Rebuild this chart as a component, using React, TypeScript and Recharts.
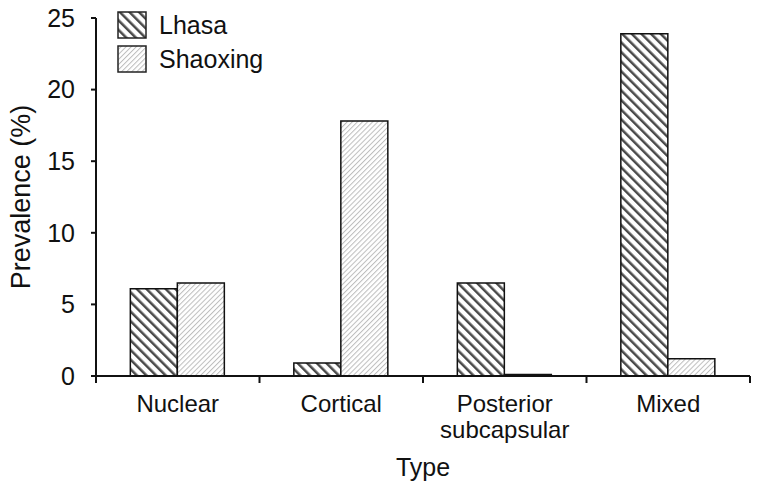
import { Bar, BarChart, Legend, XAxis, YAxis } from "recharts";

const types = ["Nuclear", "Cortical", "Posterior\nsubcapsular", "Mixed"];
const lhasa = [6.1, 0.9, 6.5, 23.9];
const shaoxing = [6.5, 17.8, 0.1, 1.2];
const yTicks = [0, 5, 10, 15, 20, 25];
const categoryBounds = [0, 1, 2, 3, 4];

const data = types.map((type, i) => ({
  type,
  index: i,
  lhasa: lhasa[i],
  shaoxing: shaoxing[i],
}));

const FONT = "'Liberation Sans', Arial, sans-serif";
const FS = 25;

function Patterns() {
  return (
    <svg width={0} height={0} style={{ position: "absolute" }}>
      <defs>
        <pattern
          id="hatchLhasa"
          patternUnits="userSpaceOnUse"
          width={6.8}
          height={6.8}
          patternTransform="rotate(-45)"
        >
          <rect width={6.8} height={6.8} fill="#fff" />
          <line x1={0} y1={0} x2={0} y2={6.8} stroke="#4a4a4a" strokeWidth={5} />
        </pattern>
        <pattern
          id="hatchShaoxing"
          patternUnits="userSpaceOnUse"
          width={3.6}
          height={3.6}
          patternTransform="rotate(45)"
        >
          <rect width={3.6} height={3.6} fill="#fff" />
          <line x1={0} y1={0} x2={0} y2={3.6} stroke="#bdbdbd" strokeWidth={2} />
        </pattern>
      </defs>
    </svg>
  );
}

function TypeTick({ x, y, payload }: any) {
  const lines = String(payload.value).split("\n");
  return (
    <text
      x={x}
      y={y}
      textAnchor="middle"
      fontFamily={FONT}
      fontSize={24}
      fill="#111"
    >
      {lines.map((line, i) => (
        <tspan key={i} x={x} dy={i === 0 ? 27 : 26}>
          {line}
        </tspan>
      ))}
    </text>
  );
}

function LegendBox() {
  const items = [
    { name: "Lhasa", fill: "url(#hatchLhasa)" },
    { name: "Shaoxing", fill: "url(#hatchShaoxing)" },
  ];
  return (
    <div style={{ fontFamily: FONT, fontSize: FS, color: "#111" }}>
      {items.map((item) => (
        <div
          key={item.name}
          style={{ display: "flex", alignItems: "center", height: 34 }}
        >
          <svg width={30} height={28} style={{ marginRight: 12 }}>
            <rect
              x={1}
              y={1}
              width={28}
              height={26}
              fill={item.fill}
              stroke="#222"
              strokeWidth={1.5}
            />
          </svg>
          <span>{item.name}</span>
        </div>
      ))}
    </div>
  );
}

export default function App() {
  return (
    <div style={{ position: "relative" }}>
      <style>{"body{margin:0;background:#fff}"}</style>
      <Patterns />
      <BarChart
        width={758}
        height={489}
        data={data}
        margin={{ top: 18, right: 8, bottom: 0, left: 0 }}
        barCategoryGap="21%"
        barGap={0}
      >
        <XAxis
          xAxisId="bounds"
          type="number"
          dataKey="index"
          domain={[0, 4]}
          ticks={categoryBounds}
          height={1}
          tickFormatter={() => ""}
          tickSize={7}
          stroke="#111"
          strokeWidth={2}
          allowDataOverflow
        />
        <XAxis
          xAxisId="cat"
          dataKey="type"
          height={112}
          axisLine={false}
          tickLine={false}
          tick={<TypeTick />}
          interval={0}
          label={{
            value: "Type",
            position: "insideBottom",
            offset: 13,
            fontFamily: FONT,
            fontSize: FS,
            fill: "#111",
          }}
        />
        <YAxis
          width={96}
          domain={[0, 25]}
          ticks={yTicks}
          tickSize={5}
          tickMargin={16}
          stroke="#111"
          strokeWidth={2}
          tick={{ fontFamily: FONT, fontSize: FS, fill: "#111" }}
          label={{
            content: ({ viewBox }: any) => (
              <text
                x={21}
                y={viewBox.y + viewBox.height / 2}
                transform={`rotate(-90, 21, ${viewBox.y + viewBox.height / 2})`}
                textAnchor="middle"
                dominantBaseline="central"
                fontFamily={FONT}
                fontSize={27}
                fill="#111"
              >
                Prevalence (%)
              </text>
            ),
          }}
        />
        <Legend
          layout="vertical"
          align="center"
          verticalAlign="middle"
          wrapperStyle={{ top: 8, left: 117, width: "auto" }}
          content={() => <LegendBox />}
        />
        <Bar
          xAxisId="cat"
          dataKey="lhasa"
          name="Lhasa"
          fill="url(#hatchLhasa)"
          stroke="#111"
          strokeWidth={1.5}
          isAnimationActive={false}
        />
        <Bar
          xAxisId="cat"
          dataKey="shaoxing"
          name="Shaoxing"
          fill="url(#hatchShaoxing)"
          stroke="#111"
          strokeWidth={1.5}
          isAnimationActive={false}
        />
      </BarChart>
    </div>
  );
}
